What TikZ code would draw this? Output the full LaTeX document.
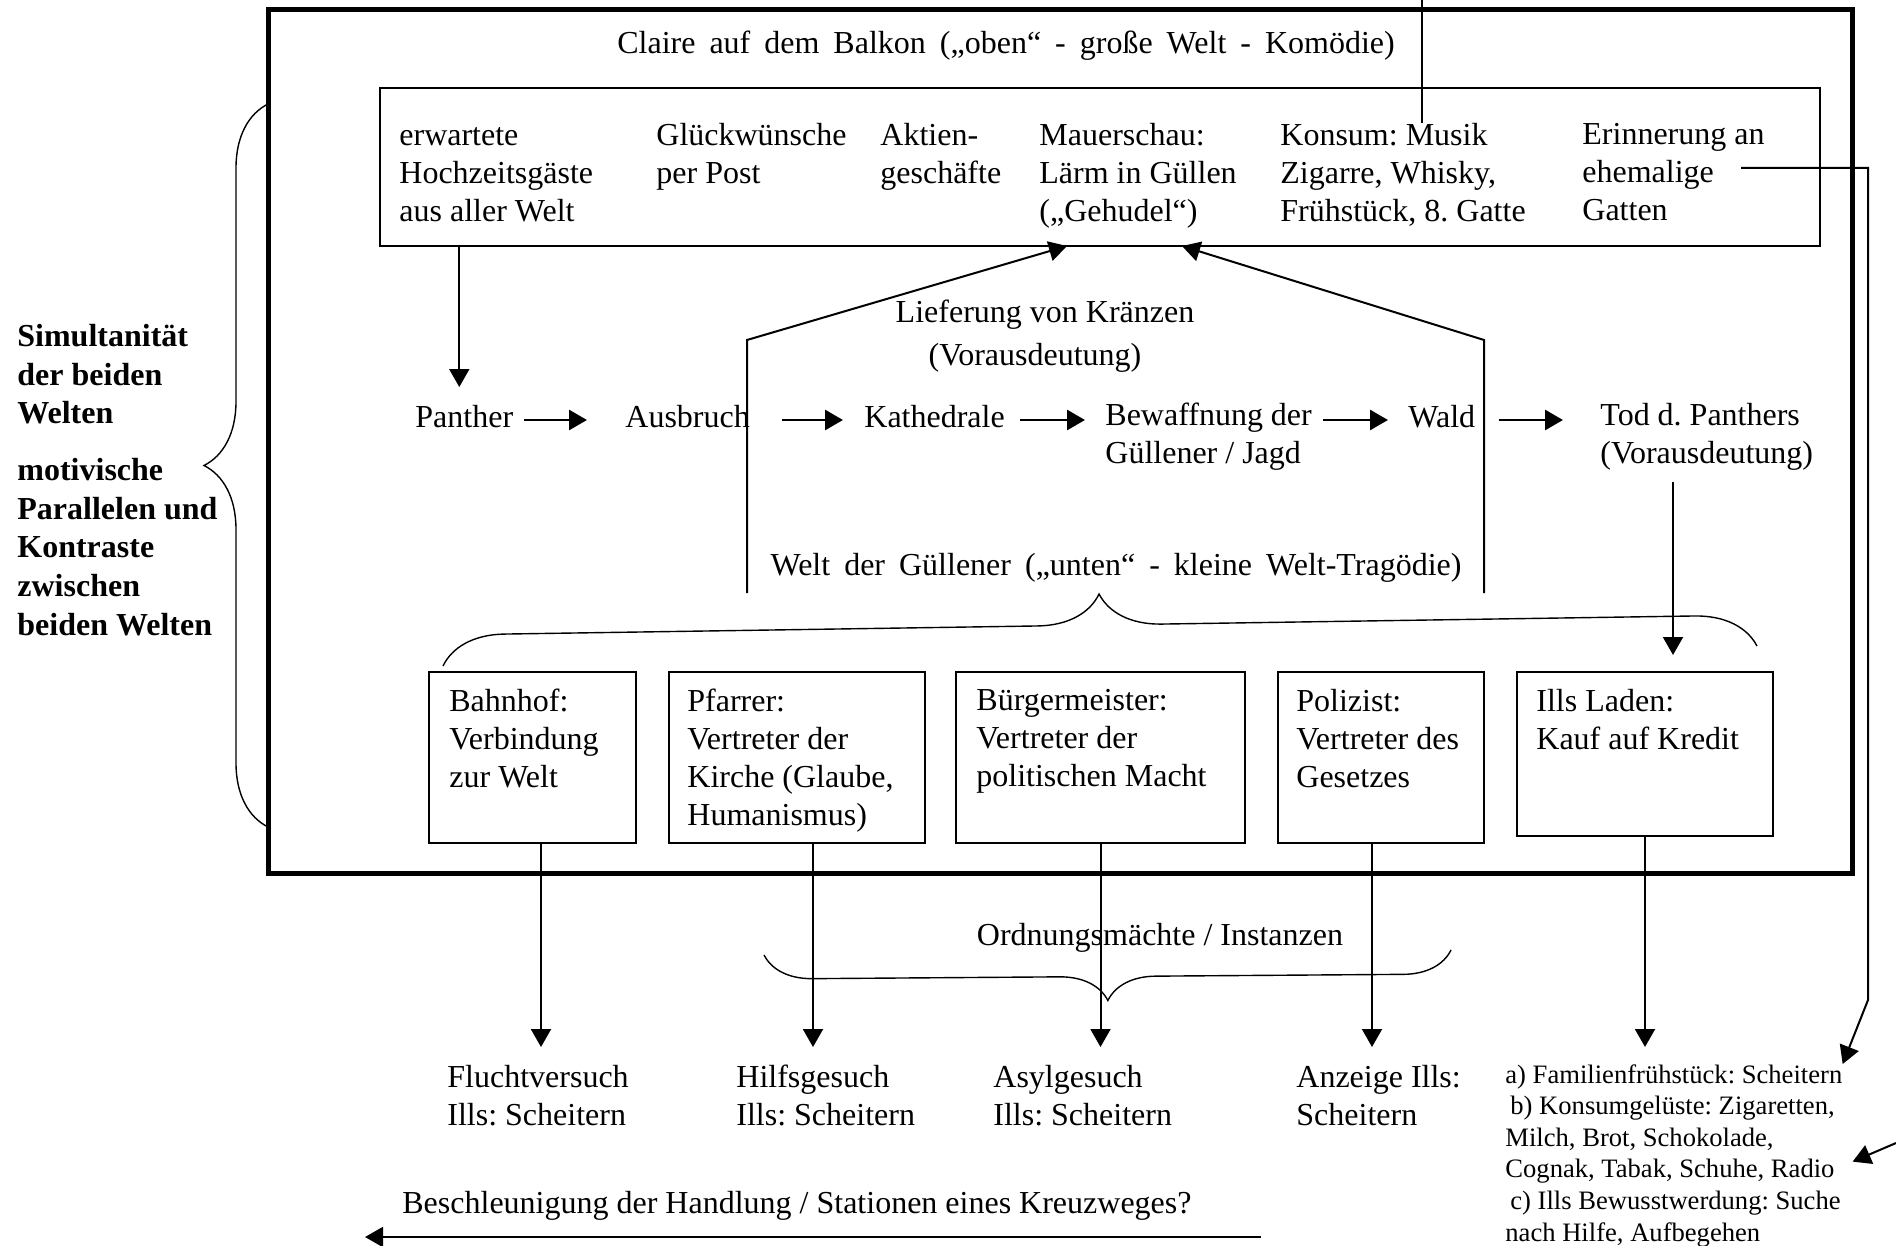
\documentclass[tikz,border=0pt]{standalone}
\usepackage{fontspec}
\setmainfont{Liberation Serif}
\usetikzlibrary{arrows.meta,decorations.pathreplacing,fit,calc}
\frenchspacing
\newcommand{\weit}{\spaceskip=7pt\relax}

\tikzset{
  txt/.style={anchor=north west, align=left, inner sep=0pt, execute at begin node={\rule{0pt}{.75em}}},
  mitte/.style={anchor=base, align=center, inner sep=0pt},
  kasten/.style={draw, line width=1pt, anchor=north west, inner sep=0pt},
  pfeil/.style={line width=1pt, -{Triangle[length=9pt,width=10pt]}},
  dick/.style={line width=1.4pt, -{Triangle[length=9pt,width=10pt]}},
  klammer/.style={decorate, decoration={brace, amplitude=#1}, line width=0.7pt},
  fett/.style={font=\fontsize{16}{19.3}\selectfont\bfseries},
  klein/.style={font=\fontsize{13.3}{15.8}\selectfont},
}

\begin{document}
\begin{tikzpicture}[x=0.5pt, y=-0.5pt, font=\fontsize{16}{19}\selectfont]
			%%%%% START %%%%%
			\useasboundingbox (0,0) rectangle (1896,1246);
			
			\draw[line width=2.5pt] (268,10) rectangle (1852,873);
			\node[mitte] (claire) at (1006,54) {\weit Claire auf dem Balkon („oben“ - große Welt - Komödie)};
			
			%%%%% OBEN %%%%%
			\node[draw, line width=0.8pt, inner sep=0pt, fit={(380,88) (1820,246)}] (obenbox) {};
			\node[txt] (hochzeit) at (399,127) {erwartete\\Hochzeitsgäste\\aus aller Welt};
			\node[txt] (post) at (656,123) {Glückwünsche\\per Post};
			\node[txt] (aktien) at (880,123) {Aktien-\\geschäfte};
			\node[txt] (mauer) at (1039,123) {Mauerschau:\\Lärm in Güllen\\(„Gehudel“)};
			\node[txt] (konsum) at (1280,123) {Konsum: Musik\\Zigarre, Whisky,\\Frühstück, 8. Gatte};
			\node[txt] (gatten) at (1582,123) {Erinnerung an\\ehemalige\\Gatten};
			
			\coordinate (oberrand) at (1422,0);
			\draw[line width=1pt] (oberrand) -- (oberrand |- konsum.north);
			
			%%%%% PANTHER %%%%%
			\node[txt] (panther) at (415,403) {Panther};
			\node[txt] (ausbruch) at (625,403) {Ausbruch};
			\node[txt] (kathedrale) at (864,403) {Kathedrale};
			\node[txt] (bewaffnung) at (1105,403) {Bewaffnung der\\Güllener / Jagd};
			\node[txt] (wald) at (1408,403) {Wald};
			\node[txt] (tod) at (1600,403) {Tod d. Panthers\\(Vorausdeutung)};
			
			\coordinate (reihe) at (0,420);
			\draw[dick, shorten <=5pt, shorten >=19pt] (panther.east |- reihe) -- (ausbruch.west |- reihe);
			\draw[dick, shorten <=16pt, shorten >=10.5pt] (ausbruch.east |- reihe) -- (kathedrale.west |- reihe);
			\draw[dick, shorten <=7.5pt, shorten >=10pt] (kathedrale.east |- reihe) -- (bewaffnung.west |- reihe);
			\draw[dick, shorten <=5.5pt, shorten >=10pt] (bewaffnung.east |- reihe) -- (wald.west |- reihe);
			\draw[dick, shorten <=11.5pt, shorten >=18.5pt] (wald.east |- reihe) -- (tod.west |- reihe);
			
			\draw[pfeil, shorten >=8pt] ([xshift=-2.5pt]panther.north |- obenbox.south) -- ([xshift=-2.5pt]panther.north);
			
			\node[mitte] (kraenze) at (1045,322) {Lieferung von Kränzen};
			\node[mitte] (deutung) at (1035,365) {(Vorausdeutung)};
			
			\coordinate (hausL) at (747,593);
			\coordinate (hausR) at (1484,593);
			\coordinate (spitzeL) at (1067,246);
			\coordinate (spitzeR) at (1182,246);
			\draw[pfeil] (hausL) -- (747,340) -- (spitzeL);
			\draw[pfeil] (hausR) -- (1484,340) -- (spitzeR);
			
			\node[mitte] (welt) at (1116,575) {\weit Welt der Güllener („unten“ - kleine Welt-Tragödie)};
			\draw[klammer=31pt] (443,666) -- (1757,646);
			
			%%%%% UNTEN %%%%%
			\node[kasten, minimum width=103.5pt, minimum height=85.5pt] (bahnhof) at (428,671) {};
			\node[kasten, minimum width=128pt, minimum height=85.5pt] (pfarrer) at (668,671) {};
			\node[kasten, minimum width=144.5pt, minimum height=85.5pt] (buerger) at (955,671) {};
			\node[kasten, minimum width=103pt, minimum height=85.5pt] (polizist) at (1277,671) {};
			\node[kasten, minimum width=128pt, minimum height=82pt] (laden) at (1516,671) {};
			
			\node[txt] (bahnhoftxt) at ([shift={(10.5pt,-9pt)}]bahnhof.north west) {Bahnhof:\\Verbindung\\zur Welt};
			\node[txt] (pfarrertxt) at ([shift={(9.5pt,-9pt)}]pfarrer.north west) {Pfarrer:\\Vertreter der\\Kirche (Glaube,\\Humanismus)};
			\node[txt] (buergertxt) at ([shift={(10.5pt,-9pt)}]buerger.north west) {Bürgermeister:\\Vertreter der\\politischen Macht};
			\node[txt] (polizisttxt) at ([shift={(9.5pt,-9pt)}]polizist.north west) {Polizist:\\Vertreter des\\Gesetzes};
			\node[txt] (ladentxt) at ([shift={(10pt,-9pt)}]laden.north west) {Ills Laden:\\Kauf auf Kredit};
			
			\draw[pfeil, shorten <=5.5pt, shorten >=8pt] ([xshift=14pt]laden.north |- tod.south) -- ([xshift=14pt]laden.north);
			
			%%%%% FOLGEN %%%%%
			\node[txt] (flucht) at (447,1065) {Fluchtversuch\\Ills: Scheitern};
			\node[txt] (hilfe) at (736,1065) {Hilfsgesuch\\Ills: Scheitern};
			\node[txt] (asyl) at (993,1065) {Asylgesuch\\Ills: Scheitern};
			\node[txt] (anzeige) at (1296,1065) {Anzeige Ills:\\Scheitern};
			\node[txt, klein] (folgen) at (1505,1064) {a) Familienfrühstück: Scheitern\\\hspace*{2.5pt}b) Konsumgelüste: Zigaretten,\\Milch, Brot, Schokolade,\\Cognak, Tabak, Schuhe, Radio\\\hspace*{2.5pt}c) Ills Bewusstwerdung: Suche\\nach Hilfe, Aufbegehen};
			
			\coordinate (spitzen) at (0,1047);
			\draw[pfeil] ([xshift=4.25pt]bahnhof.south) -- ([xshift=4.25pt]bahnhof.south |- spitzen);
			\draw[pfeil] ([xshift=8pt]pfarrer.south) -- ([xshift=8pt]pfarrer.south |- spitzen);
			\draw[pfeil] (buerger.south) -- (buerger.south |- spitzen);
			\draw[pfeil] ([xshift=-4.5pt]polizist.south) -- ([xshift=-4.5pt]polizist.south |- spitzen);
			\draw[pfeil] (laden.south) -- (laden.south |- spitzen);
			
			\node[mitte] (ordnung) at (1160,945) {Ordnungsmächte / Instanzen};
			\draw[klammer=24pt] (1451,950) -- (764,955);
			
			\coordinate (gattenR) at (1741,168);
			\draw[pfeil] (gattenR) -- (1868,168) -- (1868,1000) -- (folgen.north east);
			\coordinate (rand) at (1896,1143);
			\draw[pfeil] (rand) -- ([xshift=5pt,yshift=-3pt]folgen.east);
			
			\node[txt] (beschl) at (402,1189) {Beschleunigung der Handlung / Stationen eines Kreuzweges?};
			\coordinate (wegR) at (1261,1237);
			\coordinate (wegL) at (365,1237);
			\draw[pfeil] (wegR) -- (wegL);
			
			%%%%% LINKS %%%%%
			\node[txt, fett] (simultan) at (17,324) {Simultanität\\der beiden\\Welten};
			\node[txt, fett] (motive) at (17,458) {motivische\\Parallelen und\\Kontraste\\zwischen\\beiden Welten};
			\draw[klammer=32pt] (268,827) -- (268,104);
			
			%%%%% END %%%%%
\end{tikzpicture}
\end{document}
